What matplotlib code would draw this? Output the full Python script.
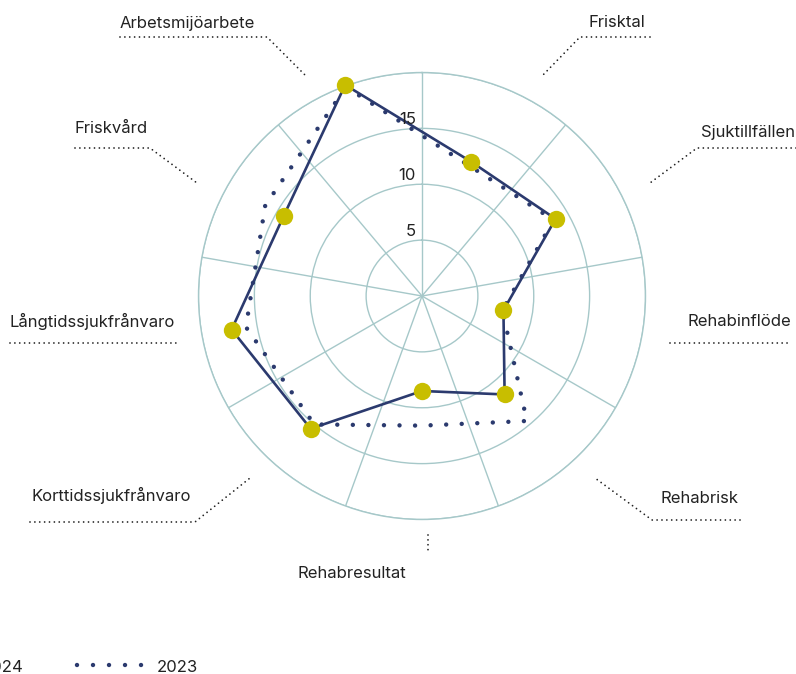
import numpy as np
import matplotlib
matplotlib.use("Agg")
import matplotlib.pyplot as plt
from matplotlib import transforms

plt.rcParams['font.family'] = ['Inter', 'DejaVu Sans']

# ---- data ----
categories = ["Arbetsmijöarbete", "Frisktal", "Sjuktillfällen", "Rehabinflöde",
              "Rehabrisk", "Rehabresultat", "Korttidssjukfrånvaro",
              "Långtidssjukfrånvaro", "Friskvård"]
values_2024 = [20.1, 12.8, 13.8, 7.4, 11.5, 8.5, 15.5, 17.3, 14.3]
values_2023 = [19.9, 12.4, 13.6, 7.3, 14.6, 11.6, 15.0, 16.0, 16.2]
series_names = ["2024", "2023"]
r_ticks = [5, 10, 15]
r_max = 20

# ---- style ----
W, H = 796, 674
NAVY = "#2B3A6E"
YELLOW = "#C8BE00"
GRID = "#A6C8C9"
TEXT = "#222222"
FS = 12

fig = plt.figure(figsize=(W / 100, H / 100), dpi=100)

# polar axes: centre (422,296), radius ~223.5 px
cx, cy, R = 422, 296, 223.5
ax = fig.add_axes([(cx - R) / W, (H - cy - R) / H, 2 * R / W, 2 * R / H], projection='polar')
ax.set_theta_offset(np.pi / 2)
ax.set_theta_direction(-1)
ax.set_ylim(0, r_max)
ax.set_yticks(r_ticks + [r_max])
ax.set_yticklabels([])
ax.set_xticks(np.radians(np.arange(0, 360, 40)))
ax.set_xticklabels([])
ax.grid(True, color=GRID, lw=1.0)
ax.spines['polar'].set_color(GRID)
ax.spines['polar'].set_linewidth(1.0)
ax.tick_params(length=0)

n = len(categories)
theta = np.radians(-20 + 40 * np.arange(n))
th_closed = np.append(theta, theta[0])
v24 = np.append(values_2024, values_2024[0])
v23 = np.append(values_2023, values_2023[0])

dot_lw = 3.2
dot_style = (0, (0.001, 3.5))
ax.plot(th_closed, v23, color=NAVY, lw=dot_lw, linestyle=dot_style,
        dash_capstyle='round', zorder=3, clip_on=False)
ax.plot(th_closed, v24, color=NAVY, lw=1.9, zorder=4, clip_on=False)
ax.plot(theta, values_2024, linestyle='none', marker='o', ms=12.5, color=YELLOW,
        markeredgewidth=0, zorder=5, clip_on=False)

off = transforms.offset_copy(ax.transData, fig=fig, x=-6, y=4.5, units='dots')
for r in r_ticks:
    ax.text(0, r, str(r), transform=off, ha='right', va='baseline',
            fontsize=FS, color=TEXT, zorder=6)

# ---- overlay for labels, leaders and legend (pixel coordinates) ----
ov = fig.add_axes([0, 0, 1, 1], facecolor='none')
ov.set_xlim(0, W)
ov.set_ylim(H, 0)
ov.axis('off')

label_pos = [(187, 28), (617, 27), (748, 137), (739, 326), (700, 503),
             (352, 578), (111, 501), (92, 327), (111, 133)]
leaders = [
    [(120, 37), (267, 37), (305, 75)],
    [(650, 37), (580, 37), (542, 76)],
    [(796, 148), (697, 148), (650, 183)],
    [(670, 343), (790, 343)],
    [(740, 520), (652, 520), (595, 478)],
    [(428, 535), (428, 553)],
    [(30, 522), (195, 522), (250, 478)],
    [(10, 343), (177, 343)],
    [(75, 148), (150, 148), (197, 183)],
]
for name, (x, y), pts in zip(categories, label_pos, leaders):
    ov.text(x, y, name, ha='center', va='baseline', fontsize=FS, color=TEXT)
    xs, ys = zip(*pts)
    ov.plot(xs, ys, color="#222222", lw=1.3, linestyle=(0, (0.001, 2.7)),
            dash_capstyle='round')

# legend (partly cut off at left, as in the reference)
ov.text(24, 672, series_names[0], ha='right', va='baseline', fontsize=FS, color=TEXT)
ov.plot([-120, -40], [665, 665], color=NAVY, lw=1.9)
ov.plot([77, 142], [665, 665], color=NAVY, lw=dot_lw, linestyle=(0, (0.001, 3.6)),
        dash_capstyle='round')
ov.text(157, 672, series_names[1], ha='left', va='baseline', fontsize=FS, color=TEXT)

fig.savefig("out.png", dpi=100)
